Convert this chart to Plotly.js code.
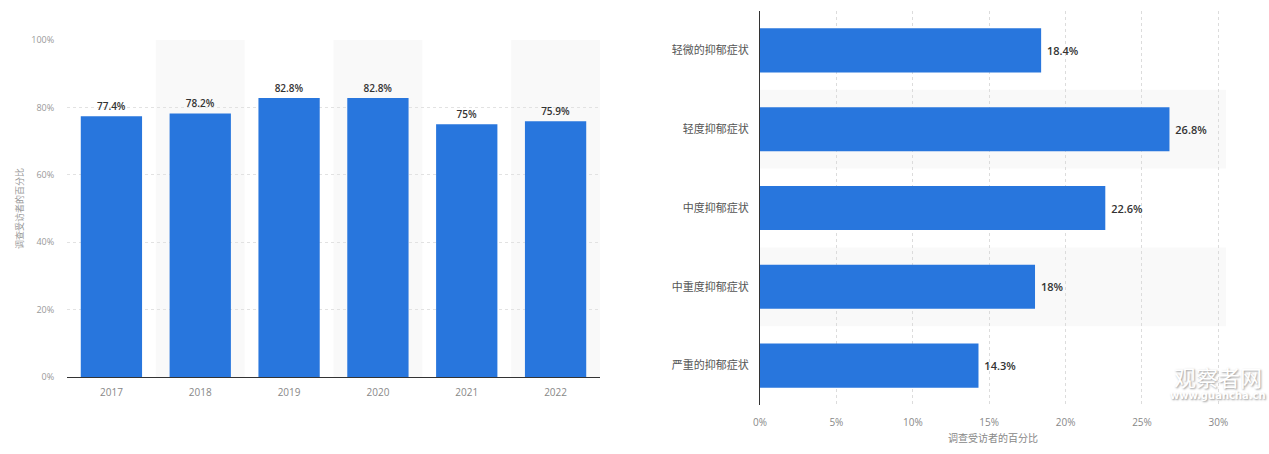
<!DOCTYPE html>
<html>
<head>
<meta charset="utf-8">
<script src="https://cdn.plot.ly/plotly-3.0.1.min.js"></script>
<style>html,body{margin:0;padding:0;background:#fff;}#chart{width:1269px;height:454px;}</style>
</head>
<body>
<div id="chart"></div>
<script>
// Left chart data
const years = ['2017', '2018', '2019', '2020', '2021', '2022'];
const yearValues = [77.4, 78.2, 82.8, 82.8, 75, 75.9];
const leftTickVals = [0, 20, 40, 60, 80, 100];
const leftTickText = ['0%', '20%', '40%', '60%', '80%', '100%'];

// Right chart data
const symptoms = ['轻微的抑郁症状', '轻度抑郁症状', '中度抑郁症状', '中重度抑郁症状', '严重的抑郁症状'];
const symptomValues = [18.4, 26.8, 22.6, 18, 14.3];
const rightTickVals = [0, 5, 10, 15, 20, 25, 30];
const rightTickText = ['0%', '5%', '10%', '15%', '20%', '25%', '30%'];

const axisTitle = '调查受访者的百分比';
const BLUE = '#2876dd';
const BAND = '#f9f9f9';
const FONT = 'Open Sans, Noto Sans CJK SC, sans-serif';

const traces = [
  {
    type: 'bar', x: years, y: yearValues, xaxis: 'x', yaxis: 'y',
    marker: {color: BLUE, line: {width: 0}}, width: 0.69,
    texttemplate: '%{y}%', textposition: 'outside', cliponaxis: false,
    textfont: {family: FONT, size: 10, color: '#333', weight: 600},
    hoverinfo: 'none'
  },
  {
    type: 'bar', orientation: 'h', y: symptoms, x: symptomValues, xaxis: 'x2', yaxis: 'y2',
    marker: {color: BLUE, line: {width: 0}}, width: 0.56,
    texttemplate: ' %{x}%', textposition: 'outside', cliponaxis: false,
    textfont: {family: FONT, size: 11, color: '#333', weight: 600},
    hoverinfo: 'none'
  }
];

const shapes = [];
years.forEach((y, i) => {
  if (i % 2 === 1) {
    shapes.push({type: 'rect', layer: 'below', xref: 'x', yref: 'y domain',
      x0: i - 0.5, x1: i + 0.5, y0: 0, y1: 1, fillcolor: BAND, line: {width: 0}});
  }
});
symptoms.forEach((s, i) => {
  if (i % 2 === 1) {
    shapes.push({type: 'rect', layer: 'below', xref: 'x2 domain', yref: 'y2',
      x0: 0, x1: 1, y0: i - 0.5, y1: i + 0.5, fillcolor: BAND, line: {width: 0}});
  }
});

const W = 1269, H = 454;
const layout = {
  width: W, height: H,
  margin: {l: 0, r: 0, t: 0, b: 0},
  paper_bgcolor: '#fff', plot_bgcolor: 'rgba(0,0,0,0)',
  showlegend: false,
  font: {family: FONT, color: '#888'},
  xaxis: {
    domain: [67 / W, 600 / W], type: 'category', range: [-0.5, 5.5],
    showgrid: false, zeroline: false,
    showline: true, linecolor: '#333', linewidth: 1,
    ticks: 'outside', ticklen: 6, tickcolor: 'rgba(0,0,0,0)',
    tickfont: {size: 10, color: '#888'}, fixedrange: true
  },
  yaxis: {
    domain: [77 / H, 414 / H], range: [0, 100],
    tickvals: leftTickVals, ticktext: leftTickText,
    showgrid: true, gridcolor: '#e2e2e2', griddash: 'dot', gridwidth: 1,
    zeroline: false, showline: false,
    ticks: 'outside', ticklen: 10, tickcolor: 'rgba(0,0,0,0)',
    tickfont: {size: 9, color: '#999'},
    title: {text: axisTitle, font: {size: 9, color: '#999'}, standoff: 6},
    fixedrange: true
  },
  xaxis2: {
    domain: [760 / W, 1226 / W], range: [0, 30.5], anchor: 'y2',
    tickvals: rightTickVals, ticktext: rightTickText,
    showgrid: true, gridcolor: '#dcdcdc', griddash: 'dot', gridwidth: 1,
    zeroline: false, showline: false,
    ticks: 'outside', ticklen: 8, tickcolor: 'rgba(0,0,0,0)',
    tickfont: {size: 10, color: '#888'},
    title: {text: axisTitle, font: {size: 10, color: '#888'}, standoff: 6},
    fixedrange: true
  },
  yaxis2: {
    domain: [49 / H, 443 / H], type: 'category', autorange: false, range: [4.5, -0.5], anchor: 'x2',
    showgrid: false, zeroline: false,
    showline: true, linecolor: '#333', linewidth: 1,
    ticks: 'outside', ticklen: 8, tickcolor: 'rgba(0,0,0,0)',
    tickfont: {size: 11, color: '#555'}, fixedrange: true
  },
  shapes: shapes,
  annotations: [
    {xref: 'paper', yref: 'paper', x: 1218 / W, y: 1 - 376 / H, text: '观察者网', showarrow: false,
      xanchor: 'center', yanchor: 'middle',
      font: {family: 'Noto Sans CJK SC, sans-serif', size: 22, color: '#ffffff', shadow: '1px 1px 2px #999'}},
    {xref: 'paper', yref: 'paper', x: 1218 / W, y: 1 - 395 / H, text: 'www.guancha.cn', showarrow: false,
      xanchor: 'center', yanchor: 'middle',
      font: {family: 'DejaVu Sans, sans-serif', size: 10, color: '#ffffff', weight: 700, shadow: '1px 1px 2px #999'}}
  ]
};

Plotly.newPlot('chart', traces, layout, {displayModeBar: false, staticPlot: true});
</script>
</body>
</html>
